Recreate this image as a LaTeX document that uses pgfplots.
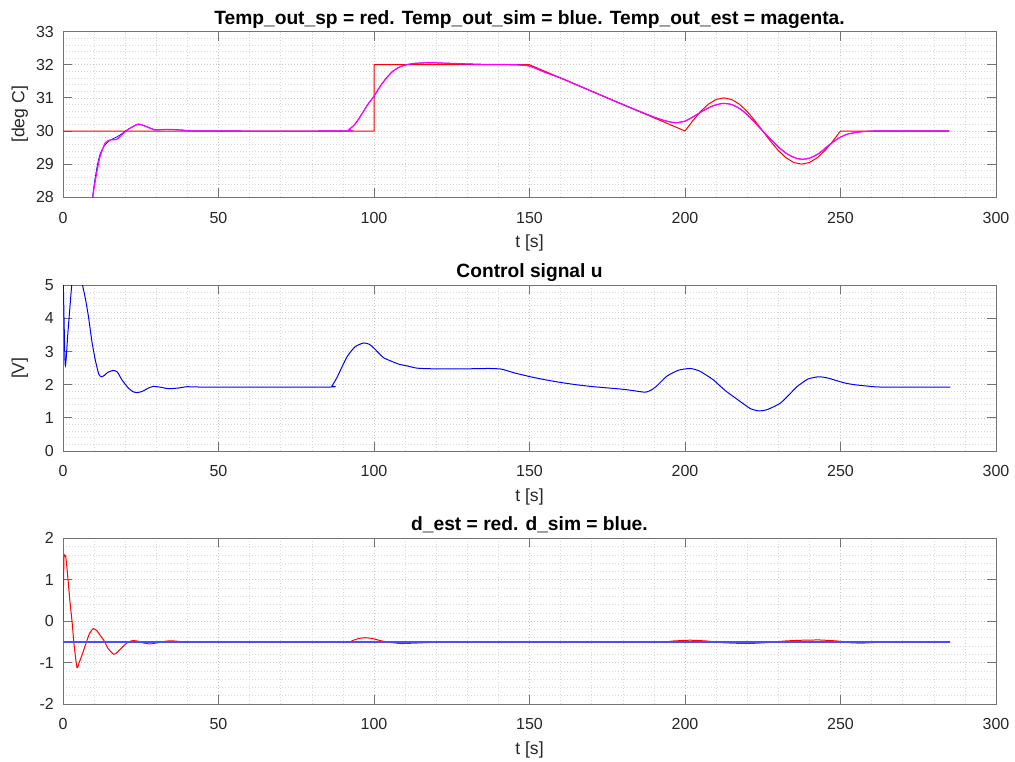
\documentclass[border=0pt]{standalone}
\usepackage{fontspec}
\setmainfont{Liberation Sans}
\usepackage{pgfplots}
\pgfplotsset{compat=1.18}
\definecolor{mred}{RGB}{255,0,0}
\definecolor{mblue}{RGB}{0,0,255}
\definecolor{mmag}{RGB}{255,0,255}

\pgfplotsset{
  mlab/.style={
    scale only axis, width=933pt, height=165.7pt,
    xmin=0, xmax=300, xtick={0,50,...,300},
    minor x tick num=4, minor y tick num=4,
    grid=both,
    major grid style={black!22, line width=0.6pt, dash pattern=on 1pt off 2pt},
    minor grid style={black!15, line width=0.6pt, dash pattern=on 1pt off 2pt},
    tick align=inside, major tick length=9pt, minor tick length=0pt,
    axis line style={black!55, line width=0.8pt},
    every tick/.style={black!55, line width=0.8pt},
    /pgf/number format/assume math mode=true,
    ticklabel style={font=\fontsize{16}{16}\selectfont, text=black!85},
    yticklabel style={anchor=east, inner sep=0pt, xshift=-9pt},
    xticklabel style={anchor=base, inner sep=0pt, yshift=-26pt},
    every axis title shift=0pt,
    title style={font=\bfseries\fontsize{19.2}{19.2}\selectfont, text=black,
      at={(axis description cs:0.5,1)}, anchor=base, yshift=7.5pt, inner sep=0pt},
    xlabel style={font=\fontsize{17.6}{17.6}\selectfont, text=black!85,
      at={(axis description cs:0.5,0)}, anchor=base, yshift=-50.5pt, inner sep=0pt},
    ylabel style={font=\fontsize{17.6}{17.6}\selectfont, text=black!85,
      at={(axis description cs:-0.0415,0.5)}, anchor=base, inner sep=0pt},
    xlabel={t [s]},
  },
  sig/.style={line width=1pt},
}

\begin{document}
\begin{tikzpicture}
\useasboundingbox (0,0) rectangle (1015pt,762pt);

% temperatures
\begin{axis}[mlab, at={(63pt,564.7pt)}, anchor=south west,
  ymin=28, ymax=33, ytick={28,29,...,33},
  title={Temp\_out\_sp = red. Temp\_out\_sim = blue. Temp\_out\_est = magenta.},
  ylabel={[deg C]}]
\addplot[sig, mred] coordinates {
  (0,30) (100,30) (100,32) (150,32) (200,30)
  (202.5,30.309) (205,30.588) (207.5,30.809) (210,30.951) (212.5,31)
  (215,30.951) (217.5,30.809) (220,30.588) (222.5,30.309) (225,30)
  (227.5,29.691) (230,29.412) (232.5,29.191) (235,29.049) (237.5,29)
  (240,29.049) (242.5,29.191) (245,29.412) (247.5,29.691) (250,30)
  (285,30)
};
\addplot[line width=0.7pt, mblue, smooth, tension=0.4] coordinates {
  (8.8,26.8) (9.5,28.0) (10.8,28.85) (11.9,29.3) (13.5,29.58) (15.1,29.72)
  (17.3,29.82) (19.4,29.95) (21,30.06) (24.2,30.2) (26.9,30.13) (29.6,30.04)
  (33.3,30.05) (38.3,30.03) (44,30.0) (90,30.0) (92,30.05) (94,30.22)
  (96,30.5) (98,30.8) (100,31.05) (102,31.35) (104,31.6) (106,31.8)
  (108,31.92) (110,31.99) (113,32.04) (118,32.06) (125,32.04) (135,32.01)
  (145,32.0) (150,31.96) (155,31.77) (160,31.6) (170,31.2) (180,30.8)
  (190,30.42) (194,30.3) (197,30.25) (200,30.3) (203,30.45) (206,30.62)
  (209,30.76) (212,30.83) (215,30.8) (218,30.65) (221,30.4) (224,30.1)
  (227,29.8) (230,29.52) (233,29.3) (236,29.17) (238,29.15) (240,29.18)
  (243,29.32) (246,29.55) (249,29.76) (252,29.9) (256,29.97) (262,30.0)
  (285,30.0)
};
\addplot[line width=1.2pt, mmag, smooth, tension=0.4] coordinates {
  (8.9,26.8) (9.6,28.0) (10.8,28.72) (11.9,29.22) (13.5,29.63) (15.1,29.73)
  (17.3,29.75) (19.4,29.93) (21,30.05) (24.2,30.21) (26.9,30.13) (29.6,30.03)
  (33.3,30.05) (38.3,30.03) (44,30.0) (90,30.0) (92,30.05) (94,30.22)
  (96,30.5) (98,30.8) (100,31.05) (102,31.35) (104,31.6) (106,31.8)
  (108,31.92) (110,31.99) (113,32.04) (118,32.06) (125,32.04) (135,32.01)
  (145,32.0) (150,31.96) (155,31.77) (160,31.6) (170,31.2) (180,30.8)
  (190,30.42) (194,30.3) (197,30.25) (200,30.3) (203,30.45) (206,30.62)
  (209,30.76) (212,30.83) (215,30.8) (218,30.65) (221,30.4) (224,30.1)
  (227,29.8) (230,29.52) (233,29.3) (236,29.17) (238,29.15) (240,29.18)
  (243,29.32) (246,29.55) (249,29.76) (252,29.9) (256,29.97) (262,30.0)
  (285,30.0)
};
\end{axis}

% control signal
\begin{axis}[mlab, at={(63pt,311pt)}, anchor=south west,
  ymin=0, ymax=5, ytick={0,1,...,5},
  title={Control signal u},
  ylabel={[V]}]
\addplot[sig, mblue, smooth, tension=0.35] coordinates {
  (0,5.6) (0.7,2.6) (1.6,3.6) (2.8,5.0) (3.5,5.5) (5.5,5.5) (6.3,5.0)
  (7.2,4.6) (8.2,4.05) (9.3,3.3) (10.4,2.74) (11.5,2.32) (12.3,2.24)
  (13.3,2.28) (14.5,2.38) (16.3,2.43) (17.5,2.38) (19,2.14) (21,1.9)
  (22.5,1.79) (23.8,1.76) (25.5,1.8) (27.5,1.9) (29.1,1.95) (31,1.93)
  (34,1.88) (37,1.9) (40,1.94) (45,1.93) (85.5,1.93) (86.5,1.97) (88,2.2)
  (91.3,2.84) (94,3.15) (96.7,3.26) (98.5,3.22) (100,3.1) (103,2.82)
  (105.3,2.72) (108,2.62) (111,2.56) (113.8,2.5) (119,2.48) (130,2.48)
  (137,2.49) (141,2.47) (145,2.36) (150.3,2.24) (155,2.15) (159.9,2.07)
  (165,2.0) (170.6,1.94) (180.3,1.86) (186.5,1.78) (188,1.79) (189.5,1.86)
  (191,1.97) (194.2,2.26) (198,2.44) (201.7,2.49) (204.5,2.42) (207,2.28)
  (209.2,2.14) (213,1.82) (217.8,1.49) (221,1.28) (223.7,1.21) (226.5,1.25)
  (230.6,1.44) (233.5,1.7) (236,1.94) (239.5,2.17) (243,2.24) (246,2.2)
  (251,2.06) (254.5,2.0) (258.5,1.96) (263,1.93) (285.3,1.93)
};
\end{axis}

% disturbance
\begin{axis}[mlab, at={(63pt,58pt)}, anchor=south west,
  ymin=-2, ymax=2, ytick={-2,-1,...,2},
  title={d\_est = red. d\_sim = blue.}]
\addplot[sig, mred, smooth, tension=0.35] coordinates {
  (0,0) (0.3,1.5) (0.5,1.59) (0.9,1.55) (1.5,1.1) (2.2,0.5) (2.9,0.0)
  (3.6,-0.6) (4.5,-1.12) (5.2,-1.0) (6.2,-0.8) (7.2,-0.58) (8.5,-0.3)
  (9.8,-0.18) (11,-0.24) (12,-0.35) (13.1,-0.46) (14.5,-0.66) (16.3,-0.8)
  (17.5,-0.75) (19.5,-0.6) (21,-0.5) (22.7,-0.47) (24.5,-0.49) (26,-0.53)
  (28.1,-0.55) (30.5,-0.52) (33.5,-0.48) (36,-0.48) (40,-0.51) (45,-0.5)
  (90,-0.5) (93,-0.47) (95,-0.42) (97.2,-0.40) (99.5,-0.42) (102,-0.47)
  (104,-0.5) (108.5,-0.54) (113,-0.53) (120,-0.51) (130,-0.5) (190,-0.5)
  (196,-0.48) (201.6,-0.46) (207,-0.48) (212,-0.52) (219.8,-0.54)
  (226,-0.52) (232,-0.48) (238,-0.46) (243.4,-0.455) (249,-0.48)
  (253,-0.52) (257,-0.53) (262,-0.51) (266,-0.5) (285.3,-0.5)
};
\addplot[line width=1.3pt, mblue!70!white] coordinates {(0,-0.5) (285.3,-0.5)};
\end{axis}
\end{tikzpicture}
\end{document}
